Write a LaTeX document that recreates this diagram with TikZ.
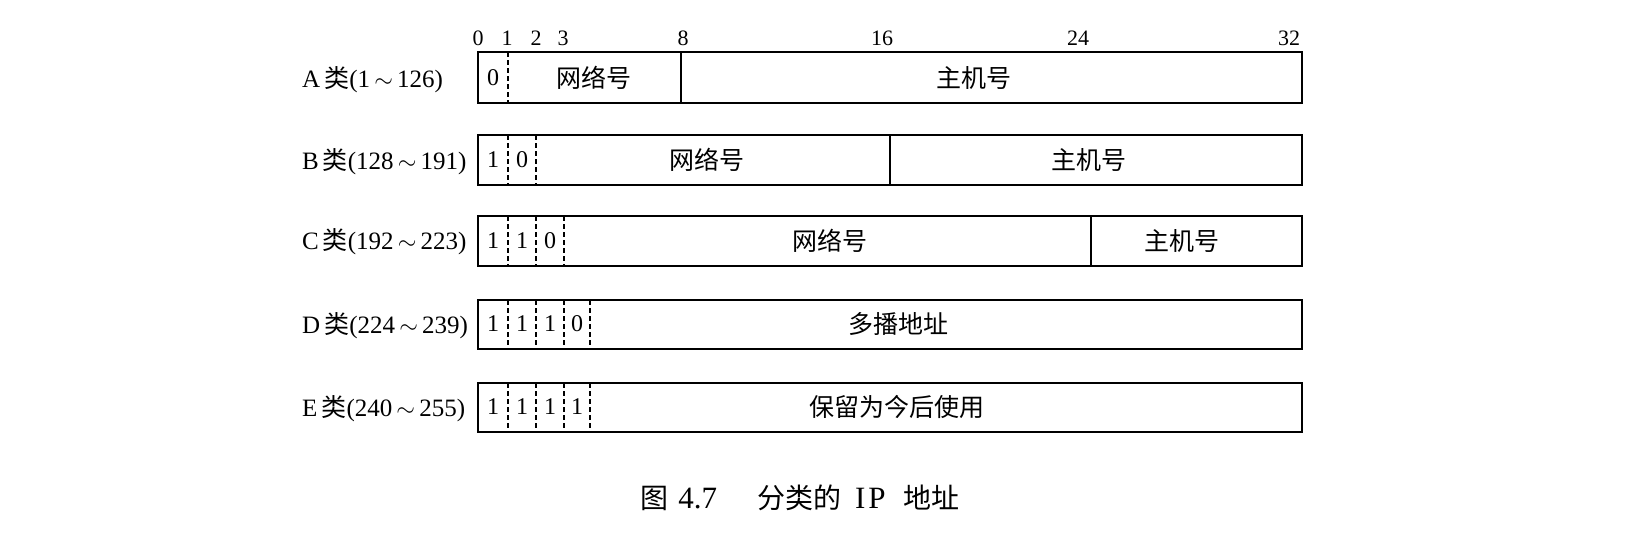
\documentclass[tikz,border=0pt]{standalone}
\usepackage{fontspec}
\setmainfont{Liberation Serif}
\newfontfamily\cjk{Noto Sans CJK SC}

\begin{document}
\begin{tikzpicture}[
            x = 0.5pt, y = -0.5pt, % one unit is one pixel of the page
            frame/.style = {line width=1.25pt}, % outer line of a row
            split/.style = {line width=0.65pt}, % net / host border
            bitline/.style = {line width=0.65pt, dash pattern=on 2.5pt off 1.5pt},
            bitnum/.style = {font=\fontsize{11}{11}\selectfont, anchor=base},
            bitval/.style = {font=\fontsize{12}{12}\selectfont},
            field/.style = {font=\fontsize{12.5}{12.5}\selectfont\cjk},
            rowname/.style = {font=\fontsize{12.5}{12.5}\selectfont, anchor=base west}
        ]
\useasboundingbox (0,0) rectangle (1646,538);

% bit numbers on top
\node[bitnum] (n0) at (478,45) {0};
\node[bitnum] (n1) at (507,45) {1};
\node[bitnum] (n2) at (536,45) {2};
\node[bitnum] (n3) at (563,45) {3};
\node[bitnum] (n8) at (683,45) {8};
\node[bitnum] (n16) at (882,45) {16};
\node[bitnum] (n24) at (1078,45) {24};
\node[bitnum] (n32) at (1289,45) {32};

% class A
\node[rowname] (lA) at (295,87) {A\,{\cjk 类}(1\,$\sim$\,126)};
\draw[frame] (478,52) rectangle (1302,103);
\draw[bitline] (508,52) -- (508,103);
\draw[split] (681,52) -- (681,103);
\node[bitval] (a0) at (493,78) {0};
\node[field] (anet) at (594,78) {网络号};
\node[field] (ahost) at (974,78) {主机号};

% class B
\node[rowname] (lB) at (295,169) {B\,{\cjk 类}(128\,$\sim$\,191)};
\draw[frame] (478,135) rectangle (1302,185);
\draw[bitline] (508,135) -- (508,185);
\draw[bitline] (536,135) -- (536,185);
\draw[split] (890,135) -- (890,185);
\node[bitval] (b0) at (493,160) {1};
\node[bitval] (b1) at (522,160) {0};
\node[field] (bnet) at (707,160) {网络号};
\node[field] (bhost) at (1089,160) {主机号};

% class C
\node[rowname] (lC) at (295,249) {C\,{\cjk 类}(192\,$\sim$\,223)};
\draw[frame] (478,216) rectangle (1302,266);
\draw[bitline] (508,216) -- (508,266);
\draw[bitline] (536,216) -- (536,266);
\draw[bitline] (564,216) -- (564,266);
\draw[split] (1091,216) -- (1091,266);
\node[bitval] (c0) at (493,241) {1};
\node[bitval] (c1) at (522,241) {1};
\node[bitval] (c2) at (550,241) {0};
\node[field] (cnet) at (830,241) {网络号};
\node[field] (chost) at (1182,241) {主机号};

% class D
\node[rowname] (lD) at (295,333) {D\,{\cjk 类}(224\,$\sim$\,239)};
\draw[frame] (478,300) rectangle (1302,349);
\draw[bitline] (508,300) -- (508,349);
\draw[bitline] (536,300) -- (536,349);
\draw[bitline] (564,300) -- (564,349);
\draw[bitline] (590,300) -- (590,349);
\node[bitval] (d0) at (493,324) {1};
\node[bitval] (d1) at (522,324) {1};
\node[bitval] (d2) at (550,324) {1};
\node[bitval] (d3) at (577,324) {0};
\node[field] (dmulti) at (898,324) {多播地址};

% class E
\node[rowname] (lE) at (295,416) {E\,{\cjk 类}(240\,$\sim$\,255)};
\draw[frame] (478,383) rectangle (1302,432);
\draw[bitline] (508,383) -- (508,432);
\draw[bitline] (536,383) -- (536,432);
\draw[bitline] (564,383) -- (564,432);
\draw[bitline] (590,383) -- (590,432);
\node[bitval] (e0) at (493,407) {1};
\node[bitval] (e1) at (522,407) {1};
\node[bitval] (e2) at (550,407) {1};
\node[bitval] (e3) at (577,407) {1};
\node[field] (ekeep) at (897,407) {保留为今后使用};

% caption
\node[font=\fontsize{15.5}{15.5}\selectfont, anchor=base west, inner sep=0pt] (cap) at (640,508)
    {{\fontsize{14}{14}\selectfont\cjk 图}\hspace{5pt}4.7\hspace{20pt}{\fontsize{14}{14}\selectfont\cjk 分类的}\hspace{7pt}I\hspace{1.5pt}P\hspace{9pt}{\fontsize{14}{14}\selectfont\cjk 地址}};

\end{tikzpicture}
\end{document}
